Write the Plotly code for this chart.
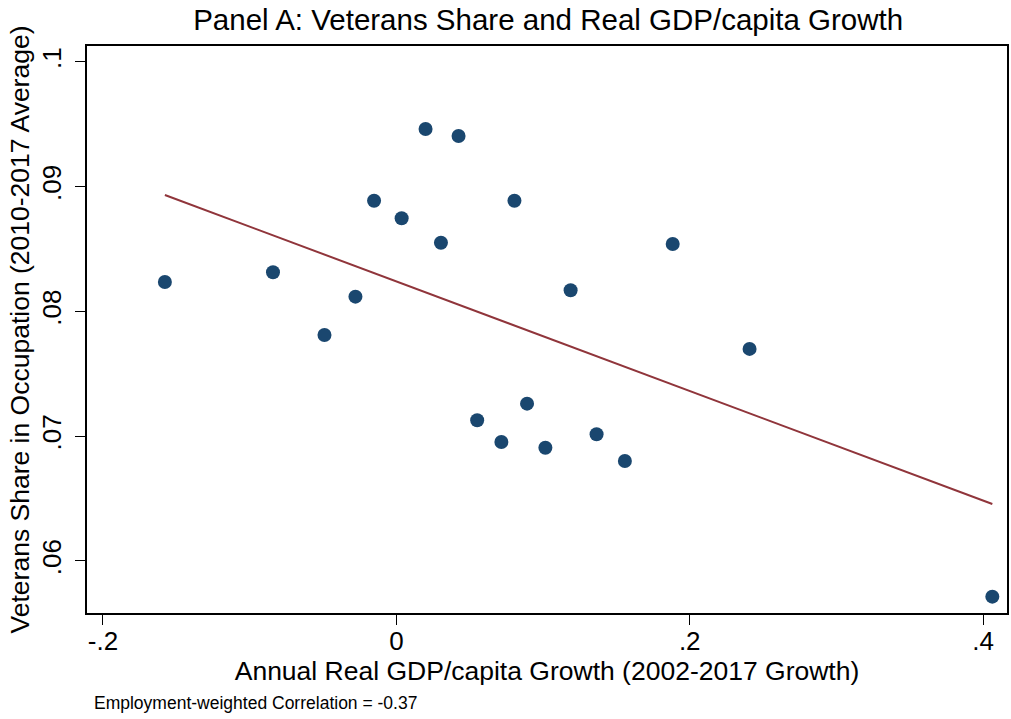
import plotly.graph_objects as go

# Occupation-level data: annual real GDP/capita growth vs. veterans share
gdp_growth = [-0.1578, -0.0841, -0.0490, -0.0279, -0.0152, 0.0036, 0.0199, 0.0424,
              0.0304, 0.0805, 0.1188, 0.0551, 0.0716, 0.0891, 0.1016, 0.1365,
              0.1558, 0.1884, 0.2408, 0.4063]
veteran_share = [0.08236, 0.08314, 0.07812, 0.08119, 0.08888, 0.08747, 0.09463, 0.09407,
                 0.08551, 0.08888, 0.08170, 0.07128, 0.06954, 0.07261, 0.06908, 0.07016,
                 0.06802, 0.08541, 0.07700, 0.05714]

# Employment-weighted linear fit (intercept, slope)
fit_intercept = 0.08241
fit_slope = -0.04391

x_ticks = [-0.2, 0, 0.2, 0.4]
x_tick_labels = ["-.2", "0", ".2", ".4"]
y_ticks = [0.06, 0.07, 0.08, 0.09, 0.10]
y_tick_labels = [".06", ".07", ".08", ".09", ".1"]

x_lo, x_hi = min(gdp_growth), max(gdp_growth)
fit_x = [x_lo, x_hi]
fit_y = [fit_intercept + fit_slope * v for v in fit_x]

FONT = "Liberation Sans, Arial, sans-serif"

fig = go.Figure()
fig.add_trace(go.Scatter(
    x=gdp_growth, y=veteran_share, mode="markers",
    marker=dict(color="#1a476f", size=14, line=dict(width=0)),
    showlegend=False,
))
fig.add_trace(go.Scatter(
    x=fit_x, y=fit_y, mode="lines",
    line=dict(color="#90353b", width=2),
    showlegend=False,
))

axis_common = dict(
    showline=True, linecolor="black", linewidth=1.5, mirror=True,
    ticks="outside", ticklen=10, tickwidth=1.2, tickcolor="black",
    showgrid=False, zeroline=False,
    tickfont=dict(family=FONT, size=26, color="black"),
)

fig.update_layout(
    width=1011, height=719,
    margin=dict(l=87, r=2, t=46, b=106),
    paper_bgcolor="white", plot_bgcolor="white",
    font=dict(family=FONT, color="black"),
    title=dict(text="Panel A: Veterans Share and Real GDP/capita Growth",
               x=0.5422, xanchor="center", y=0.972, yanchor="middle",
               font=dict(family=FONT, size=29.5, color="black")),
    xaxis=dict(**axis_common, range=[-0.2109, 0.4163],
               tickvals=x_ticks, ticktext=x_tick_labels,
               ticklabelstandoff=-6,
               title=dict(text="Annual Real GDP/capita Growth (2002-2017 Growth)",
                          font=dict(family=FONT, size=26.5), standoff=1)),
    yaxis=dict(**axis_common, range=[0.05583, 0.10128],
               tickvals=y_ticks, ticktext=y_tick_labels, tickangle=-90,
               ticklabelstandoff=4,
               title=dict(text="Veterans Share in Occupation (2010-2017 Average)",
                          font=dict(family=FONT, size=26.5), standoff=0)),
    annotations=[dict(
        text="Employment-weighted Correlation = -0.37",
        xref="paper", yref="paper", x=0.005, y=-0.1587,
        xanchor="left", yanchor="middle", showarrow=False,
        font=dict(family=FONT, size=17.5, color="black"),
    )],
)

fig.write_html("out.html")
